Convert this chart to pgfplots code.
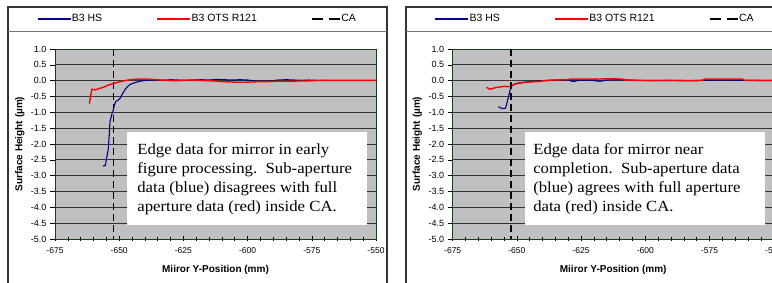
\documentclass[border=0pt]{standalone}
\usepackage{fontspec}
\setmainfont{Liberation Sans}
\newfontfamily\timesfont[FakeStretch=1.08]{Liberation Serif}
\usepackage{pgfplots}
\pgfplotsset{compat=1.18}
\definecolor{plotbg}{RGB}{192,192,192}
\definecolor{navyb}{RGB}{0,0,140}
\definecolor{axgreen}{RGB}{25,60,25}
\definecolor{redl}{RGB}{255,0,0}

\pgfplotstableread{
x y
-656.4 -2.70
-655.4 -2.68
-654.8 -2.40
-654.3 -2.19
-653.9 -1.75
-653.6 -1.30
-653.0 -1.10
-652.3 -0.93
-651.8 -0.75
-651.4 -0.66
-650.5 -0.62
-649.7 -0.56
-648.8 -0.43
-647.8 -0.29
-646.8 -0.19
-645.8 -0.12
-644.2 -0.07
-642.5 -0.03
-640.5 0.00
-639.0 0.01
-636.0 0.02
-633.0 0.01
-630.0 0.03
-627.0 0.02
-624.0 0.01
-621.0 0.02
-618.0 0.03
-615.0 0.02
-612.0 0.04
-609.0 0.03
-606.0 0.02
-603.0 0.03
-600.0 0.02
-597.0 -0.01
-594.0 -0.02
-591.0 -0.01
-588.0 0.02
-585.0 0.03
-582.0 0.02
-579.0 0.01
-576.0 0.02
-573.0 0.01
-569.2 0.01
}\leftblue

\pgfplotstableread{
x y
-661.6 -0.73
-661.2 -0.50
-660.6 -0.27
-659.5 -0.29
-658.8 -0.28
-657.5 -0.24
-656.2 -0.21
-654.5 -0.15
-652.3 -0.09
-650.5 -0.05
-648.4 -0.01
-646.5 0.02
-644.5 0.04
-642.0 0.05
-639.3 0.05
-637.0 0.04
-634.0 0.02
-631.0 0.01
-628.0 0.00
-625.0 0.01
-622.0 0.02
-619.0 0.01
-616.0 0.00
-613.0 -0.01
-610.0 -0.03
-607.0 -0.04
-604.0 -0.05
-601.0 -0.05
-598.0 -0.04
-595.0 -0.03
-592.0 -0.03
-589.0 -0.02
-586.0 -0.02
-583.0 -0.02
-580.0 -0.01
-577.0 -0.01
-574.0 0.00
-571.0 0.01
-568.0 0.01
-565.0 0.01
-560.0 0.01
-555.0 0.01
-550.0 0.01
}\leftred

\pgfplotstableread{
x y
-657.2 -0.82
-656.4 -0.86
-655.4 -0.88
-654.5 -0.87
-654.0 -0.75
-653.6 -0.61
-653.0 -0.42
-652.5 -0.24
-651.9 -0.16
-651.2 -0.12
-649.9 -0.08
-648.5 -0.06
-645.0 -0.03
-641.8 -0.01
-638.0 0.01
-634.0 0.02
-630.0 0.02
-628.0 -0.03
-626.0 0.01
-622.0 0.02
-617.6 -0.02
-615.0 0.02
-611.0 0.03
-607.0 0.02
-603.0 0.01
-598.0 0.01
-593.0 0.00
-588.0 0.01
-583.0 0.00
-578.0 0.01
-573.0 0.02
-568.0 0.02
-563.0 0.01
-558.0 0.01
-553.0 0.00
-550.0 0.00
}\rightblue

\pgfplotstableread{
x y
-661.8 -0.21
-660.6 -0.27
-659.6 -0.25
-658.4 -0.22
-656.6 -0.20
-655.1 -0.18
-653.6 -0.19
-652.5 -0.18
-651.2 -0.12
-649.1 -0.08
-647.2 -0.06
-644.6 -0.04
-641.8 -0.03
-639.1 0.00
-635.5 0.02
-631.0 0.03
-628.8 0.05
-624.0 0.05
-619.0 0.05
-614.0 0.06
-609.0 0.05
-607.9 0.02
-603.0 0.01
-598.0 0.00
-592.0 0.01
-586.0 0.00
-580.0 0.00
-577.9 0.01
-576.8 0.05
-570.0 0.05
-565.0 0.05
-562.3 0.05
-561.3 0.01
-555.0 0.01
-550.0 0.01
}\rightred

\pgfplotsset{
 blueleg/.style={legend image code/.code={\draw[navyb, line width=1.1pt] (0pt,0pt) -- (33pt,0pt);}},
 redleg/.style={legend image code/.code={\draw[redl, line width=1.4pt] (0pt,0pt) -- (33pt,0pt);}},
 caleg/.style={legend image code/.code={\draw[black, line width=1.4pt, dash pattern=on 11pt off 6pt] (0pt,0pt) -- (28pt,0pt);}},
 mystyle/.style={
  scale only axis, width=321pt, height=190pt, anchor=south west,
  xmin=-675, xmax=-550, ymin=-5, ymax=1,
  xtick={-675,-650,...,-550}, minor x tick num=4,
  ytick={-5,-4.5,...,1},
  xtick pos=bottom, ytick pos=left,
  ymajorgrids, grid style={black!80, line width=0.8pt},
  axis background/.style={fill=plotbg},
  axis line style={axgreen, line width=0.9pt},
  major tick style={black, line width=0.6pt},
  minor tick style={black, line width=0.6pt},
  xtick align=center, major tick length=5pt, minor tick length=4pt,
  ytick align=outside,
  /pgf/number format/assume math mode=true,
  yticklabel style={font=\fontsize{9}{10}\selectfont, /pgf/number format/.cd, fixed, fixed zerofill, precision=1},
  xticklabel style={font=\fontsize{8.5}{9}\selectfont, yshift=-3pt},
  xlabel={Miiror Y-Position (mm)},
  ylabel={Surface Height (µm)},
  xlabel style={font=\bfseries\fontsize{10}{11}\selectfont, at={(axis description cs:0.5,-0.163)}, anchor=center},
  ylabel style={font=\bfseries\fontsize{10}{11}\selectfont, at={(axis description cs:-0.11,0.5)}, anchor=center},
  legend columns=3,
  legend style={draw=none, fill=none, inner sep=0pt, font=\fontsize{10.5}{12}\selectfont,
     /tikz/every even column/.append style={column sep=54pt},
     nodes={inner sep=0.5pt},
     at={(axis description cs:-0.056,1.158)}, anchor=west},
  clip=true,
}}

\begin{document}
\begin{tikzpicture}
\useasboundingbox (0pt,0pt) rectangle (772pt,283pt);
% frames
\draw[black!80, line width=1.2pt] (8pt,-10pt) rectangle (387pt,276pt);
\draw[black!55, line width=0.9pt] (8pt,252pt) -- (387pt,252pt);
\draw[black!80, line width=1.2pt] (406pt,-10pt) rectangle (785pt,276pt);
\draw[black!55, line width=0.9pt] (406pt,252pt) -- (785pt,252pt);

\begin{axis}[mystyle, at={(55pt,44pt)}]
\addplot[navyb, line width=1.1pt, blueleg] table {\leftblue};
\addlegendentry{B3 HS}
\addplot[redl, line width=1.4pt, redleg] table {\leftred};
\addlegendentry{B3 OTS R121}
\addplot[black, line width=1.4pt, dash pattern=on 7pt off 4pt, caleg]
  coordinates {(-652.3,1) (-652.3,-5)};
\addlegendentry{CA}
\fill[white] (axis cs:-646.9,-1.62) rectangle (axis cs:-553.5,-4.56);
\node[anchor=north west, align=left, inner sep=0pt, font=\timesfont\fontsize{15.5}{19}\selectfont]
  at (axis cs:-643.0,-1.98) {Edge data for mirror in early\\figure processing.\ \ Sub-aperture\\data (blue) disagrees with full\\aperture data (red) inside CA.};
\end{axis}

\begin{axis}[mystyle, at={(452.7pt,44pt)}]
\addplot[navyb, line width=1.1pt, blueleg] table {\rightblue};
\addlegendentry{B3 HS}
\addplot[redl, line width=1.4pt, redleg] table {\rightred};
\addlegendentry{B3 OTS R121}
\addplot[black, line width=1.4pt, dash pattern=on 7pt off 4pt, caleg]
  coordinates {(-652.3,1) (-652.3,-5)};
\addlegendentry{CA}
\fill[white] (axis cs:-646.8,-1.62) rectangle (axis cs:-553.4,-4.56);
\node[anchor=north west, align=left, inner sep=0pt, font=\timesfont\fontsize{15.5}{19}\selectfont]
  at (axis cs:-643.7,-1.98) {Edge data for mirror near\\completion.\ \ Sub-aperture data\\(blue) agrees with full aperture\\data (red) inside CA.};
\end{axis}
\end{tikzpicture}
\end{document}
